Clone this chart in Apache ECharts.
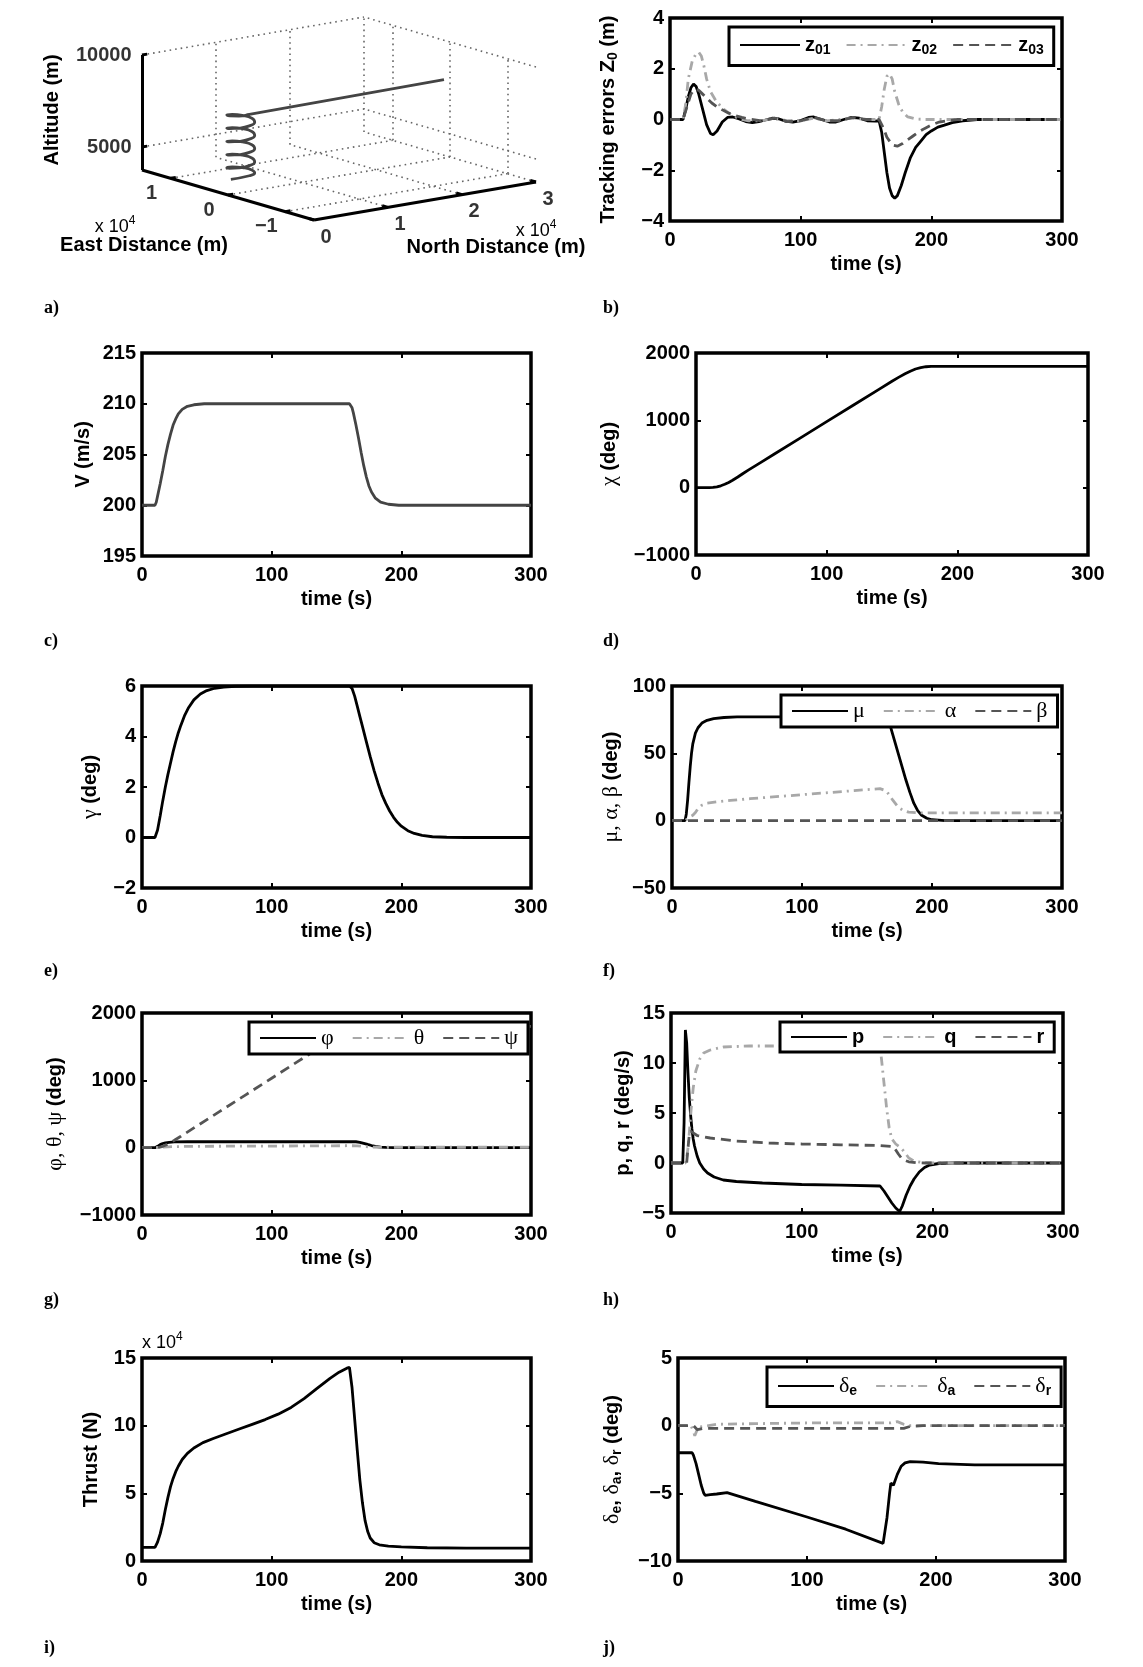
<!DOCTYPE html>
<html>
<head>
<meta charset="utf-8">
<title>Flight simulation results</title>
<script src="https://cdn.jsdelivr.net/npm/echarts@6.0.0/dist/echarts.min.js"></script>
<style>
  html, body { margin: 0; padding: 0; background: #fff; }
  #chart { width: 1143px; height: 1667px; }
</style>
</head>
<body>
<div id="chart"></div>
<script>
/* ---------- 数据 ---------- */
const timeTicks = { min: 0, max: 300, interval: 100 };

/* a) 三维轨迹 (北向, 东向, 高度, 单位 m) */
const eastRange = [-15000, 15000];
const northRange = [0, 30000];
const altRange = [3750, 10000];
const eastTicks = [-10000, 0, 10000];
const northTicks = [0, 10000, 20000, 30000];
const altTicks = [5000, 10000];
const trajN = [0,
  2500, 3561, 4000, 3561, 2500, 1439, 1000, 1439,
  2500, 3561, 4000, 3561, 2500, 1439, 1000, 1439,
  2500, 3561, 4000, 3561, 2500, 1439, 1000, 1439,
  2500, 3561, 4000, 3561, 2500, 1439, 1000, 1439,
  2500, 3561, 4000, 3561, 2500, 1439, 1000, 1439,
  2500, 28800];
const trajE = [-500,
  -500, -61, 1000, 2061, 2500, 2061, 1000, -61,
  -500, -61, 1000, 2061, 2500, 2061, 1000, -61,
  -500, -61, 1000, 2061, 2500, 2061, 1000, -61,
  -500, -61, 1000, 2061, 2500, 2061, 1000, -61,
  -500, -61, 1000, 2061, 2500, 2061, 1000, -61,
  -500, -500];
const trajAlt = [4650,
  4670, 4700, 4745, 4805, 4880, 4960, 5045, 5130,
  5218, 5308, 5398, 5488, 5578, 5668, 5758, 5848,
  5938, 6028, 6118, 6208, 6298, 6388, 6478, 6568,
  6658, 6748, 6838, 6928, 7018, 7108, 7198, 7288,
  7378, 7468, 7558, 7648, 7738, 7820, 7890, 7950,
  8000, 8080];

/* b) 跟踪误差 */
const z01 = [[0,0],[10,0],[12,0.4],[14,0.9],[16,1.25],[18,1.4],[20,1.3],[22,1.0],[25,0.4],[28,-0.2],[31,-0.55],[33,-0.6],[36,-0.45],[40,-0.1],[44,0.08],[48,0.1],[53,0.02],[58,-0.08],[63,-0.12],[68,-0.08],[73,-0.02],[78,0.05],[83,0.03],[88,-0.06],[94,-0.1],[100,-0.04],[106,0.08],[110,0.1],[116,0],[122,-0.1],[127,-0.1],[133,0],[139,0.08],[145,0.05],[151,-0.05],[157,-0.06],[160,-0.05],[162,-0.5],[164,-1.3],[166,-2.1],[168,-2.7],[170,-3.0],[172,-3.1],[174,-3.0],[177,-2.6],[180,-2.1],[184,-1.5],[188,-1.1],[192,-0.85],[196,-0.6],[200,-0.45],[205,-0.3],[210,-0.22],[216,-0.12],[224,-0.05],[235,0],[300,0]];
const z02 = [[0,0],[10,0],[12,0.6],[14,1.6],[17,2.3],[20,2.6],[22,2.65],[24,2.5],[26,2.1],[28,1.6],[31,1.1],[35,0.75],[40,0.45],[45,0.25],[50,0.1],[55,0],[60,-0.05],[70,-0.05],[80,0.05],[90,-0.05],[100,-0.05],[110,0.05],[120,-0.05],[130,0],[140,0.05],[150,0],[160,0],[162,0.5],[164,1.2],[166,1.7],[168,1.8],[170,1.6],[172,1.1],[175,0.6],[178,0.3],[182,0.1],[188,0.02],[195,0],[300,0]];
const z03 = [[0,0],[10,0],[13,0.5],[16,1.0],[19,1.2],[22,1.15],[25,1.0],[28,0.85],[32,0.65],[36,0.5],[40,0.38],[45,0.25],[50,0.15],[55,0.08],[60,0.02],[70,-0.05],[80,0.05],[90,-0.08],[100,-0.05],[110,0.08],[120,-0.05],[130,-0.05],[140,0.08],[150,0],[160,0],[163,-0.3],[166,-0.7],[170,-1.0],[174,-1.05],[178,-0.95],[182,-0.8],[186,-0.65],[190,-0.5],[195,-0.35],[200,-0.22],[206,-0.1],[212,-0.05],[220,0],[300,0]];

/* c) 速度 V (m/s) */
const speed = [[0,200],[10,200],[11,200.3],[12,200.9],[14,202.1],[16,203.4],[18,204.8],[20,206.0],[22,207.0],[24,207.9],[26,208.5],[28,209.0],[31,209.45],[35,209.75],[40,209.9],[48,210],[160,210],[161,209.9],[162,209.6],[163,209.1],[165,207.9],[167,206.6],[169,205.2],[171,203.9],[173,202.8],[175,201.9],[177,201.3],[180,200.7],[184,200.3],[190,200.1],[198,200],[300,200]];

/* d) 航迹偏角 χ (deg) */
const chi = [[0,0],[10,0],[13,3],[16,12],[19,28],[22,50],[25,78],[28,110],[32,158],[36,210],[40,260],[45,320],[50,380],[60,500],[80,740],[100,980],[120,1220],[140,1460],[150,1580],[155,1638],[160,1692],[164,1730],[168,1762],[172,1784],[176,1796],[180,1800],[300,1800]];

/* e) 航迹倾角 γ (deg) */
const gamma = [[0,0],[10,0],[12,0.3],[14,0.85],[16,1.45],[18,2.0],[20,2.5],[22,2.95],[24,3.4],[26,3.8],[28,4.15],[30,4.45],[33,4.85],[36,5.15],[40,5.45],[45,5.68],[50,5.82],[56,5.91],[63,5.96],[72,5.99],[85,6],[160,6],[162,5.9],[164,5.6],[166,5.2],[168,4.8],[170,4.4],[173,3.8],[176,3.2],[179,2.65],[182,2.15],[185,1.7],[188,1.35],[191,1.05],[194,0.8],[197,0.6],[200,0.45],[205,0.27],[210,0.16],[216,0.08],[224,0.03],[235,0.01],[250,0],[300,0]];

/* f) μ, α, β (deg) */
const mu = [[0,0],[10,0],[11,5],[12,15],[13,28],[14,40],[15,50],[16,57],[18,65],[20,69],[23,72.5],[27,74.5],[32,75.8],[40,76.6],[50,77],[165,77],[168,70],[171,60],[174,50],[177,40],[180,30],[183,21],[186,13],[189,7.5],[192,4],[196,1.8],[200,0.7],[210,0.1],[220,0],[300,0]];
const alpha = [[0,0],[10,0],[12,1.5],[14,3],[16,4],[18,6],[20,9],[23,11.5],[27,13],[35,14],[45,15],[60,16.3],[80,17.8],[100,19.3],[120,20.8],[140,22.3],[160,23.8],[165,22],[170,15],[174,10],[178,7.5],[182,6.3],[190,5.8],[300,5.8]];
const beta = [[0,0],[300,0]];

/* g) φ, θ, ψ (deg) */
const phi = [[0,0],[10,0],[12,20],[14,45],[16,62],[18,72],[21,80],[25,85],[35,88],[165,88],[168,80],[171,65],[174,48],[177,32],[180,20],[184,9],[188,3],[194,0.5],[200,0],[300,0]];
const theta = [[0,0],[10,0],[15,5],[20,12],[25,16],[40,20],[100,24],[160,29],[166,28],[172,15],[178,8],[185,6],[300,6]];
const psi = [[0,0],[10,0],[13,5],[16,20],[19,45],[22,75],[25,110],[30,170],[40,293],[60,539],[80,785],[100,1031],[120,1277],[140,1523],[155,1700],[165,1780],[172,1800],[300,1800]];

/* h) p, q, r (deg/s) */
const pRate = [[0,0],[9,0],[10,4],[11,13.3],[12,12],[13,9],[14,6.5],[15,4.8],[16,3.4],[17,2.4],[18,1.7],[20,0.7],[22,0],[25,-0.6],[28,-1.0],[33,-1.4],[40,-1.7],[50,-1.85],[70,-2.0],[100,-2.15],[130,-2.22],[160,-2.3],[163,-2.8],[166,-3.4],[169,-4.0],[172,-4.5],[175,-4.85],[177,-4.3],[180,-3.2],[183,-2.3],[186,-1.6],[190,-0.9],[194,-0.45],[198,-0.2],[205,-0.05],[215,0],[300,0]];
const qRate = [[0,0],[11,0],[12,0.5],[13,1.5],[14,3],[15.5,5.5],[17,7.5],[19,9.2],[22,10.4],[25,11],[30,11.3],[40,11.6],[60,11.7],[160,11.7],[161,10.5],[163,8],[165,5.5],[167,3.5],[169,2.4],[172,1.9],[175,1.6],[178,1.2],[182,0.5],[186,0.2],[192,0.05],[200,0],[300,0]];
const rRate = [[0,0],[12,0],[13,1.5],[14,2.8],[15,3.2],[17,3],[20,2.75],[30,2.5],[50,2.2],[75,2.0],[100,1.9],[130,1.82],[160,1.75],[170,1.65],[172,1.3],[174,0.9],[176,0.55],[178,0.32],[182,0.12],[188,0.03],[195,0],[300,0]];

/* i) 推力 (N) */
const thrust = [[0,10000],[10,10000],[12,14000],[14,20000],[16,28000],[18,38000],[20,47000],[22,55000],[24,61000],[26,66000],[28,70000],[31,75000],[35,79500],[40,83500],[47,87500],[55,90500],[65,94000],[75,97500],[85,101000],[95,104500],[105,108500],[115,113500],[125,120000],[135,127500],[145,135000],[152,139500],[158,142500],[160,143000],[162,128000],[164,105000],[166,82000],[168,60000],[170,43000],[172,30000],[174,22000],[176,17000],[179,13500],[183,12000],[190,11000],[200,10500],[220,9800],[250,9500],[300,9500]];

/* j) 舵偏 (deg) */
const deltaE = [[0,-2],[11,-2],[12,-2.2],[14,-2.8],[16,-3.6],[18,-4.4],[20,-5.0],[21,-5.15],[25,-5.1],[30,-5.05],[38,-4.95],[60,-5.6],[100,-6.75],[130,-7.65],[159,-8.7],[160,-8.6],[162,-6.8],[164,-5],[165,-4.25],[167,-4.4],[168,-4.4],[170,-3.6],[173,-3.0],[176,-2.75],[180,-2.65],[190,-2.7],[202,-2.8],[230,-2.9],[300,-2.9]];
const deltaA = [[0,0],[10,0],[12,-0.4],[13,-0.75],[14,-0.5],[16,-0.1],[20,-0.05],[30,0.1],[60,0.15],[100,0.2],[140,0.2],[165,0.2],[170,0.3],[175,0.1],[180,0],[300,0]];
const deltaR = [[0,0],[12,0],[15,-0.3],[20,-0.2],[100,-0.2],[175,-0.2],[180,-0.05],[190,0],[300,0]];

/* ---------- 样式 ---------- */
const SANS = '"Liberation Sans", Arial, Helvetica, sans-serif';
const SERIF = '"Liberation Serif", "DejaVu Serif", serif';
const lineStyles = {
  solid: { color: '#000', width: 2.8, type: 'solid' },
  gray: { color: '#444', width: 2.8, type: 'solid' },
  dashdot: { color: '#a8a8a8', width: 2.8, type: [9, 5, 2, 5] },
  dash: { color: '#555', width: 2.8, type: [10, 6] }
};
const nameRich = {
  b: { fontFamily: SANS, fontWeight: 'bold', fontSize: 20, color: '#000' },
  g: { fontFamily: SERIF, fontSize: 22, color: '#000' },
  s: { fontFamily: SANS, fontWeight: 'bold', fontSize: 14, color: '#000', padding: [10, 0, 0, 0] }
};
function negFmt(v) { return String(v).replace('-', '\u2212'); }

const option = {
  animation: false,
  backgroundColor: '#fff',
  grid: [], xAxis: [], yAxis: [], series: [], legend: [], graphic: []
};

/* ---------- a) 三维图: 按盒子的三个方向投影 ---------- */
const box3d = { x0: 314, y0: 220, ex: -172, ey: -50, nx: 222, ny: -38, hy: -115 };
function proj(n, e, h) {
  const u = (e - eastRange[0]) / (eastRange[1] - eastRange[0]);
  const v = (n - northRange[0]) / (northRange[1] - northRange[0]);
  const w = (h - altRange[0]) / (altRange[1] - altRange[0]);
  return [box3d.x0 + u * box3d.ex + v * box3d.nx, box3d.y0 + u * box3d.ey + v * box3d.ny + w * box3d.hy];
}
option.grid.push({ left: 0, top: 0, width: 600, height: 330, show: false });
option.xAxis.push({ gridIndex: 0, type: 'value', min: 0, max: 600, show: false });
option.yAxis.push({ gridIndex: 0, type: 'value', min: 0, max: 330, inverse: true, show: false });

const E0 = eastRange[0], E1 = eastRange[1], N1 = northRange[1], H0 = altRange[0], H1 = altRange[1];
const gridSegs = [];
northTicks.forEach(n => { if (n > 0) gridSegs.push([[n, E0, H0], [n, E1, H0]]); });
eastTicks.forEach(e => gridSegs.push([[0, e, H0], [N1, e, H0]]));
northTicks.forEach(n => { if (n > 0) gridSegs.push([[n, E1, H0], [n, E1, H1]]); });
altTicks.forEach(h => gridSegs.push([[0, E1, h], [N1, E1, h]]));
eastTicks.forEach(e => gridSegs.push([[N1, e, H0], [N1, e, H1]]));
altTicks.forEach(h => gridSegs.push([[N1, E0, h], [N1, E1, h]]));

const axisSegs = [
  [[0, E1, H0], [0, E1, H1]],
  [[0, E0, H0], [0, E1, H0]],
  [[0, E0, H0], [N1, E0, H0]]
];
eastTicks.forEach(e => axisSegs.push([[0, e, H0], [700, e, H0]]));
northTicks.forEach(n => axisSegs.push([[n, E0, H0], [n, E0 + 1000, H0]]));
altTicks.forEach(h => axisSegs.push([[0, E1, h], [700, E1, h]]));

function segData(segs) {
  return segs.map(s => ({ coords: [proj(...s[0]), proj(...s[1])] }));
}
option.series.push({
  type: 'lines', coordinateSystem: 'cartesian2d', xAxisIndex: 0, yAxisIndex: 0, silent: true,
  data: segData(gridSegs), lineStyle: { color: '#666', width: 1.6, type: [1.6, 4], opacity: 1 }
});
option.series.push({
  type: 'lines', coordinateSystem: 'cartesian2d', xAxisIndex: 0, yAxisIndex: 0, silent: true,
  data: segData(axisSegs), lineStyle: { color: '#000', width: 3, opacity: 1 }
});
option.series.push({
  type: 'line', xAxisIndex: 0, yAxisIndex: 0, symbol: 'none', smooth: 0.5, silent: true,
  data: trajN.map((n, i) => proj(n, trajE[i], trajAlt[i])),
  lineStyle: { color: '#444', width: 2.8 }
});
const tickFont = { fontSize: 20, fontWeight: 'bold', color: '#000', fontFamily: SANS };
function labelSeries(points, labelOpt) {
  option.series.push({
    type: 'scatter', xAxisIndex: 0, yAxisIndex: 0, symbolSize: 1, silent: true,
    itemStyle: { color: 'transparent' },
    data: points,
    label: Object.assign({ show: true, formatter: '{b}' }, tickFont, labelOpt)
  });
}
labelSeries(altTicks.map(h => ({ value: proj(0, E1, h), name: String(h) })), { position: 'left', distance: 10 });
labelSeries(eastTicks.map(e => ({ value: proj(0, e, H0), name: negFmt(e / 1e4) })), { position: 'inside', offset: [-19, 15] });
labelSeries(northTicks.map(n => ({ value: proj(n, E0, H0), name: negFmt(n / 1e4) })), { position: 'inside', offset: [12, 17] });

const boldFont = 'bold 20px ' + SANS;
const powRich = {
  a: { fontFamily: SANS, fontSize: 18, fill: '#000' },
  p: { fontFamily: SANS, fontSize: 12, fill: '#000', padding: [0, 0, 12, 0] }
};
option.graphic.push(
  { type: 'text', x: 52, y: 110, rotation: Math.PI / 2, style: { text: 'Altitude (m)', font: boldFont, fill: '#000', align: 'center', verticalAlign: 'middle' } },
  { type: 'text', x: 144, y: 245, style: { text: 'East Distance (m)', font: boldFont, fill: '#000', align: 'center', verticalAlign: 'middle' } },
  { type: 'text', x: 496, y: 247, style: { text: 'North Distance (m)', font: boldFont, fill: '#000', align: 'center', verticalAlign: 'middle' } },
  { type: 'text', x: 115, y: 227, style: { text: '{a|x 10}{p|4}', rich: powRich, align: 'center', verticalAlign: 'middle' } },
  { type: 'text', x: 536, y: 231, style: { text: '{a|x 10}{p|4}', rich: powRich, align: 'center', verticalAlign: 'middle' } },
  { type: 'text', x: 142, y: 1343, style: { text: '{a|x 10}{p|4}', rich: powRich, align: 'left', verticalAlign: 'middle' } }
);

/* 子图标号 */
[['a)', 44, 308], ['b)', 603, 308], ['c)', 44, 641], ['d)', 603, 641], ['e)', 44, 971],
 ['f)', 603, 971], ['g)', 44, 1300], ['h)', 603, 1300], ['i)', 44, 1648], ['j)', 603, 1648]].forEach(l => {
  option.graphic.push({ type: 'text', x: l[1], y: l[2], style: { text: l[0], font: 'bold 18px ' + SERIF, fill: '#000', align: 'left', verticalAlign: 'middle' } });
});

/* ---------- 二维子图 ---------- */
const legendRich = {
  b: { fontFamily: SANS, fontWeight: 'bold', fontSize: 20, color: '#000' },
  g: { fontFamily: SERIF, fontSize: 22, color: '#000' },
  s: { fontFamily: SANS, fontWeight: 'bold', fontSize: 14, color: '#000', padding: [11, 0, 0, 0] }
};
const panels = [
  { rect: [670, 18, 392, 203], y: [-4, 4, 2], yName: '{b|Tracking errors Z}{s|0}{b| (m)}', nameGap: 50,
    series: [['z01', z01, 'solid'], ['z02', z02, 'dashdot'], ['z03', z03, 'dash']],
    legend: { left: 729, top: 27, itemWidth: 60, itemGap: 15, padding: [8, 10, 8, 10], fmt: n => '{b|z}{s|' + n.slice(1) + '}' } },
  { rect: [142, 353, 389, 203], y: [195, 215, 5], yName: '{b|V (m/s)}', nameGap: 49,
    series: [['V', speed, 'gray']] },
  { rect: [696, 353, 392, 202], y: [-1000, 2000, 1000], yName: '{g|\u03c7}{b| (deg)}', nameGap: 76,
    series: [['chi', chi, 'solid']] },
  { rect: [142, 686, 389, 202], y: [-2, 6, 2], yName: '{g|\u03b3}{b| (deg)}', nameGap: 41,
    series: [['gamma', gamma, 'solid']] },
  { rect: [672, 686, 390, 202], y: [-50, 100, 50], yName: '{g|\u03bc, \u03b1, \u03b2}{b| (deg)}', nameGap: 50,
    series: [['\u03bc', mu, 'solid'], ['\u03b1', alpha, 'dashdot'], ['\u03b2', beta, 'dash']],
    legend: { left: 781, top: 695, itemWidth: 56, itemGap: 18, padding: [5, 10, 5, 10], fmt: n => '{g|' + n + '}' } },
  { rect: [142, 1013, 389, 202], y: [-1000, 2000, 1000], yName: '{g|\u03c6, \u03b8, \u03c8}{b| (deg)}', nameGap: 76,
    series: [['\u03c6', phi, 'solid'], ['\u03b8', theta, 'dashdot'], ['\u03c8', psi, 'dash']],
    legend: { left: 249, top: 1022, itemWidth: 56, itemGap: 18, padding: [5, 10, 5, 10], fmt: n => '{g|' + n + '}' } },
  { rect: [671, 1013, 392, 200], y: [-5, 15, 5], yName: '{b|p, q, r (deg/s)}', nameGap: 38,
    series: [['p', pRate, 'solid'], ['q', qRate, 'dashdot'], ['r', rRate, 'dash']],
    legend: { left: 780, top: 1022, itemWidth: 56, itemGap: 18, padding: [5, 10, 5, 10], fmt: n => '{b|' + n + '}' } },
  { rect: [142, 1358, 389, 203], y: [0, 150000, 50000], yName: '{b|Thrust (N)}', nameGap: 41, yFmt: v => String(v / 1e4),
    series: [['T', thrust, 'solid']] },
  { rect: [678, 1358, 387, 203], y: [-10, 5, 5], yName: '{g|\u03b4}{s|e}{b|, }{g|\u03b4}{s|a}{b|, }{g|\u03b4}{s|r}{b| (deg)}', nameGap: 54,
    series: [['\u03b4e', deltaE, 'solid'], ['\u03b4a', deltaA, 'dashdot'], ['\u03b4r', deltaR, 'dash']],
    legend: { left: 767, top: 1367, itemWidth: 56, itemGap: 18, padding: [8, 10, 8, 10], fmt: n => '{g|\u03b4}{s|' + n.slice(1) + '}' } }
];

const tickStyle = { inside: true, length: 5, lineStyle: { color: '#000', width: 2 } };
const hiddenLine = { show: false, onZero: false };
panels.forEach(p => {
  const gi = option.grid.length;
  const xi = option.xAxis.length;
  const yi = option.yAxis.length;
  option.grid.push({ left: p.rect[0], top: p.rect[1], width: p.rect[2], height: p.rect[3],
    show: true, borderColor: '#000', borderWidth: 3.5, backgroundColor: 'transparent' });
  option.xAxis.push({
    gridIndex: gi, type: 'value', position: 'bottom', min: timeTicks.min, max: timeTicks.max, interval: timeTicks.interval,
    axisLine: hiddenLine, axisTick: tickStyle, splitLine: { show: false },
    axisLabel: Object.assign({ margin: 9, showMinLabel: true, showMaxLabel: true }, tickFont),
    name: 'time (s)', nameLocation: 'middle', nameGap: 33,
    nameTextStyle: { fontSize: 20, fontWeight: 'bold', color: '#000', fontFamily: SANS }
  }, {
    gridIndex: gi, type: 'value', position: 'top', min: timeTicks.min, max: timeTicks.max, interval: timeTicks.interval,
    axisLine: hiddenLine, axisTick: tickStyle, splitLine: { show: false }, axisLabel: { show: false }
  });
  option.yAxis.push({
    gridIndex: gi, type: 'value', position: 'left', min: p.y[0], max: p.y[1], interval: p.y[2],
    axisLine: hiddenLine, axisTick: tickStyle, splitLine: { show: false },
    axisLabel: Object.assign({ margin: 6, showMinLabel: true, showMaxLabel: true, formatter: p.yFmt || negFmt }, tickFont),
    name: p.yName, nameLocation: 'middle', nameRotate: 90, nameGap: p.nameGap,
    nameTextStyle: { rich: nameRich }
  }, {
    gridIndex: gi, type: 'value', position: 'right', min: p.y[0], max: p.y[1], interval: p.y[2],
    axisLine: hiddenLine, axisTick: tickStyle, splitLine: { show: false }, axisLabel: { show: false }
  });
  p.series.forEach(s => {
    const ls = lineStyles[s[2]];
    option.series.push({
      name: s[0], type: 'line', xAxisIndex: xi, yAxisIndex: yi, data: s[1],
      symbol: 'none', smooth: false, silent: true, lineStyle: ls, itemStyle: { color: ls.color }
    });
  });
  if (p.legend) {
    option.legend.push({
      data: p.series.map(s => s[0]), left: p.legend.left, top: p.legend.top, orient: 'horizontal',
      selectedMode: false, backgroundColor: '#fff', borderColor: '#000', borderWidth: 3,
      padding: p.legend.padding, itemWidth: p.legend.itemWidth, itemHeight: 14, itemGap: p.legend.itemGap,
      itemStyle: { opacity: 0 },
      formatter: p.legend.fmt, textStyle: { color: '#000', rich: legendRich }
    });
  }
});

const chart = echarts.init(document.getElementById('chart'));
chart.setOption(option);
</script>
</body>
</html>
